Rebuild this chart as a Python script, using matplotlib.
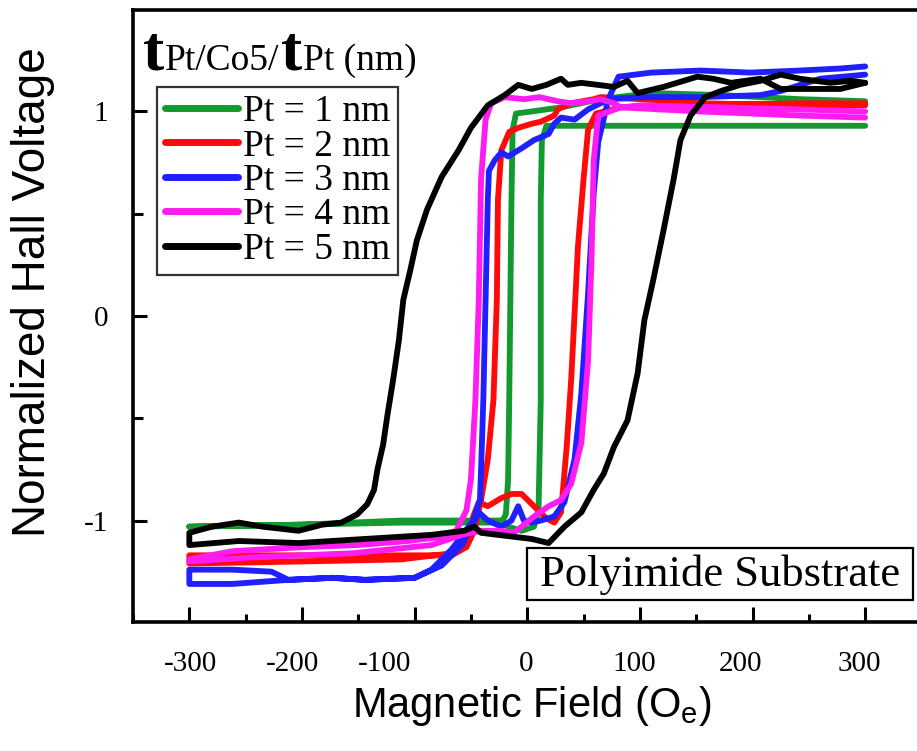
import matplotlib
matplotlib.use("Agg")
import matplotlib.pyplot as plt
import matplotlib.transforms as mtransforms
from matplotlib.patches import Rectangle

# ---------------- data (Oe, normalized Hall voltage) ----------------
labels = ["Pt = 1 nm", "Pt = 2 nm", "Pt = 3 nm", "Pt = 4 nm", "Pt = 5 nm"]
colors = ["#12992f", "#ff0a0a", "#1f1fff", "#ff1cf0", "#000000"]

# each loop: descending branch (+300 -> -300) followed by ascending branch (-300 -> +300)
pt1_x = [300, 242, 172, 110, 65, 30, 4, -10, -13, -14, -15, -16, -17, -19, -23, -58, -112, -200, -300,
         -200, -112, -58, -23, -17, -5, 6, 10, 12, 12, 12, 13, 17, 65, 154, 242, 300]
pt1_y = [1.05, 1.06, 1.08, 1.09, 1.06, 1.02, 1.00, 0.99, 0.91, 0.57, 0.08, -0.41, -0.80, -0.97, -1.01, -1.01, -1.01, -1.02, -1.03,
         -1.02, -1.00, -1.00, -1.00, -1.03, -1.05, -1.03, -0.95, -0.41, 0.08, 0.57, 0.86, 0.93, 0.93, 0.93, 0.93, 0.93]

pt2_x = [300, 242, 154, 101, 65, 59, 39, 27, 24, 12, 4, -8, -16, -23, -26, -27, -30, -35, -41, -47, -54, -67, -112, -200, -300,
         -300, -200, -112, -67, -54, -48, -43, -35, -23, -14, -5, 6, 17, 24, 30, 35, 39, 42, 45, 50, 54, 61, 83, 154, 242, 300]
pt2_y = [1.03, 1.03, 1.04, 1.06, 1.07, 1.06, 1.04, 1.01, 0.98, 0.95, 0.94, 0.92, 0.90, 0.81, 0.57, 0.08, -0.41, -0.70, -0.90, -1.05, -1.13, -1.17, -1.17, -1.17, -1.17,
         -1.21, -1.20, -1.19, -1.16, -1.12, -0.98, -0.91, -0.93, -0.89, -0.87, -0.87, -0.93, -0.99, -1.01, -0.96, -0.64, -0.31, 0.01, 0.34, 0.67, 0.91, 0.99, 1.02, 1.03, 1.04, 1.04]

pt3_x = [300, 260, 225, 207, 154, 101, 74, 65, 54, 42, 30, 24, 19, 6, -5, -17, -23, -29, -34, -35, -37, -39, -41, -42, -48, -56, -67, -85, -100, -144, -173, -212, -262, -300,
         -300, -262, -227, -212, -173, -144, -100, -76, -58, -43, -35, -23, -14, -8, -3, 4, 12, 24, 33, 42, 48, 54, 59, 63, 72, 81, 110, 154, 198, 242, 278, 300]
pt3_y = [1.18, 1.16, 1.10, 1.08, 1.07, 1.07, 1.06, 1.04, 1.01, 0.96, 0.97, 0.94, 0.89, 0.86, 0.82, 0.78, 0.80, 0.76, 0.71, 0.57, 0.08, -0.41, -0.75, -0.90, -1.00, -1.06, -1.14, -1.24, -1.28, -1.29, -1.28, -1.29, -1.31, -1.31,
         -1.24, -1.24, -1.25, -1.29, -1.28, -1.29, -1.28, -1.22, -1.12, -0.96, -1.00, -1.03, -1.00, -0.93, -1.00, -1.01, -1.00, -0.98, -0.91, -0.70, -0.38, 0.11, 0.60, 0.85, 1.06, 1.17, 1.19, 1.20, 1.19, 1.20, 1.21, 1.22]

pt4_x = [300, 242, 172, 101, 83, 77, 65, 54, 39, 27, 11, -3, -20, -32, -37, -41, -43, -46, -50, -54, -63, -76, -106, -151, -200, -262, -300,
         -300, -245, -155, -85, -58, -41, -23, -12, -5, 6, 19, 30, 39, 48, 54, 57, 59, 63, 83, 154, 242, 300]
pt4_y = [1.00, 1.01, 1.02, 1.03, 1.02, 1.04, 1.06, 1.05, 1.04, 1.05, 1.07, 1.06, 1.07, 1.04, 0.96, 0.67, 0.08, -0.41, -0.80, -0.95, -1.05, -1.08, -1.10, -1.12, -1.13, -1.15, -1.19,
         -1.20, -1.18, -1.16, -1.12, -1.07, -1.05, -1.05, -1.06, -1.03, -0.98, -0.93, -0.90, -0.82, -0.62, -0.22, 0.27, 0.76, 0.98, 1.02, 1.00, 0.98, 0.97]

pt5_x = [300, 278, 251, 225, 207, 181, 165, 151, 121, 98, 89, 77, 48, 36, 30, 17, 4, -8, -20, -35, -50, -61, -76, -89, -98, -104, -110, -114, -119, -124, -128, -133, -136, -142, -151, -165, -182, -203, -235, -256, -280, -300,
         -300, -256, -203, -144, -85, -56, -47, -41, -26, 4, 19, 33, 48, 59, 68, 77, 89, 98, 104, 112, 121, 130, 136, 145, 158, 172, 189, 207, 225, 242, 269, 287, 300]
pt5_y = [1.14, 1.11, 1.11, 1.11, 1.16, 1.14, 1.16, 1.17, 1.12, 1.09, 1.15, 1.12, 1.14, 1.13, 1.16, 1.13, 1.11, 1.13, 1.08, 1.03, 0.92, 0.81, 0.68, 0.52, 0.37, 0.22, 0.08, -0.12, -0.31, -0.48, -0.63, -0.75, -0.85, -0.92, -0.97, -1.01, -1.02, -1.05, -1.03, -1.01, -1.03, -1.06,
         -1.12, -1.10, -1.11, -1.09, -1.07, -1.05, -1.03, -1.06, -1.07, -1.09, -1.11, -1.03, -0.96, -0.85, -0.77, -0.64, -0.51, -0.28, -0.02, 0.18, 0.42, 0.67, 0.86, 0.98, 1.07, 1.10, 1.13, 1.15, 1.18, 1.16, 1.14, 1.15, 1.14]

series_x = [pt1_x, pt2_x, pt3_x, pt4_x, pt5_x]
series_y = [pt1_y, pt2_y, pt3_y, pt4_y, pt5_y]

xtick_major = [-300, -200, -100, 0, 100, 200, 300]
xtick_minor = [-350, -250, -150, -50, 50, 150, 250]
xtick_labels = ["-300", "-200", "-100", "0", "100", "200", "300"]
xlabel_pos = [-299, -208, -127, -1, 95, 189, 295]
ytick_major = [-1, 0, 1]
ytick_minor = [-0.5, 0.5]
ytick_labels = ["-1", "0", "1"]

# ---------------- figure ----------------
W, H = 917, 751
fig = plt.figure(figsize=(W / 100, H / 100), dpi=100)
ax = fig.add_axes([133 / W, 129 / H, 784 / W, 612 / H])
ax.set_xlim(-348, 346)
ax.set_ylim(-1.496, 1.496)

serif = "Liberation Serif"
sans = "Liberation Sans"

lines = []
for xs, ys, c, lab in zip(series_x, series_y, colors, labels):
    ln, = ax.plot(xs, ys, color=c, lw=4.2, label=lab,
                  solid_joinstyle="round", solid_capstyle="round")
    lines.append(ln)

for side in ["left", "bottom", "top"]:
    ax.spines[side].set_linewidth(2.6)
ax.spines["right"].set_visible(False)

ax.set_xticks(xtick_major)
ax.set_xticks(xtick_minor, minor=True)
ax.set_xticklabels([""] * len(xtick_major))
ax.set_yticks(ytick_major)
ax.set_yticks(ytick_minor, minor=True)
ax.set_yticklabels(ytick_labels, fontfamily=serif, fontsize=21)
ax.tick_params(axis="x", which="major", direction="in", length=11, width=2.2, top=False)
ax.tick_params(axis="x", which="minor", direction="in", length=6, width=2.2, top=False)
ax.tick_params(axis="y", which="major", direction="in", length=10, width=2.2, pad=18, right=False)
ax.tick_params(axis="y", which="minor", direction="in", length=7, width=2.2, right=False)

trans = mtransforms.blended_transform_factory(ax.transData, ax.transAxes)
for xp, lab in zip(xlabel_pos, xtick_labels):
    ax.text(xp, -0.068, lab, transform=trans, ha="center", va="center",
            fontfamily=serif, fontsize=21)

fig.text(532 / W, 1 - 706 / H, r"Magnetic Field (O$_\mathregular{e}$)", ha="center", va="center",
         fontfamily=sans, fontsize=30)
fig.text(33 / W, 1 - 292 / H, "Normalized Hall Voltage", ha="center", va="center",
         rotation=90, fontfamily=sans, fontsize=33)

leg = ax.legend(handles=lines, loc="upper left", bbox_to_anchor=((157 - 133) / 784, (622 - 87) / 612),
                borderaxespad=0, prop={"family": serif, "size": 27}, labelspacing=0.0,
                handlelength=1.95, handletextpad=0.15, borderpad=0.2, frameon=True, fancybox=False)
leg.get_frame().set_edgecolor("black")
leg.get_frame().set_linewidth(1.6)
for h in leg.get_lines():
    h.set_linewidth(5)

# heading t_Pt/Co5/t_Pt (nm)
renderer = fig.canvas.get_renderer()
x0 = 143
yb = 1 - 70 / H
pieces = [("t", 46, "bold"), ("Pt/Co5/", 27, "normal"), ("t", 46, "bold"), ("Pt (nm)", 27, "normal")]
for txt, fs, fw in pieces:
    t = fig.text(x0 / W, yb, txt, fontfamily=serif, fontsize=fs, fontweight=fw, va="baseline", ha="left")
    bb = t.get_window_extent(renderer=renderer)
    x0 = bb.x1 + 1

# substrate label with its frame
ax.add_patch(Rectangle(((527 - 133) / 784, (622 - 600) / 612), (913 - 527) / 784, 52 / 612,
                       transform=ax.transAxes, fc="white", ec="black", lw=1.6, zorder=5))
ax.text((720 - 133) / 784, (622 - 575) / 612, "Polyimide Substrate", transform=ax.transAxes,
        ha="center", va="center", fontfamily=serif, fontsize=32, zorder=6)

fig.savefig("out.png", dpi=100)
